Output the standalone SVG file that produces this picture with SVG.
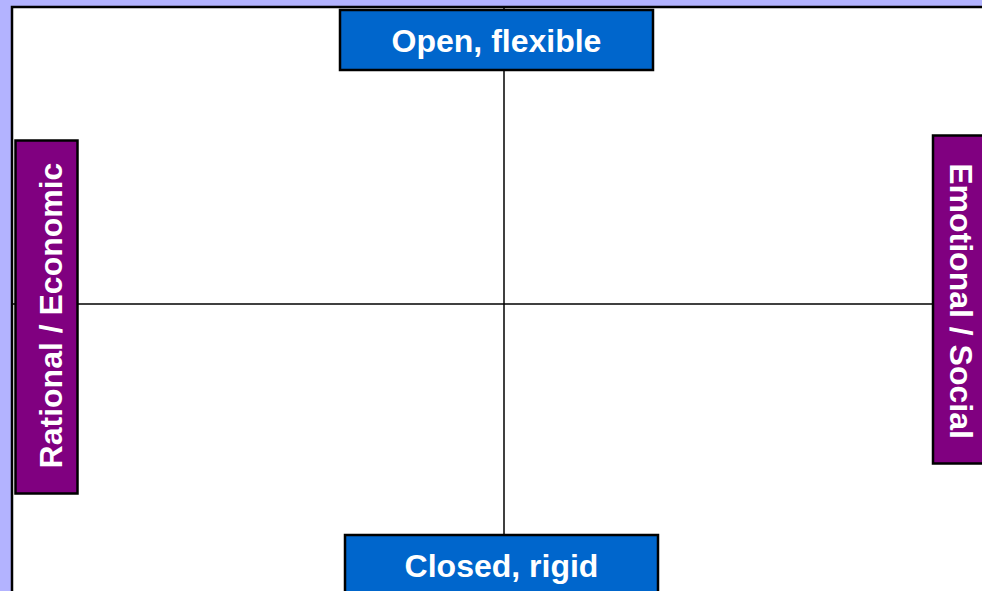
<svg xmlns="http://www.w3.org/2000/svg" width="982" height="591" viewBox="0 0 982 591">
<style>
.lbl{font-family:"Liberation Sans",Arial,sans-serif;font-weight:bold;font-size:32px;fill:#fff;text-anchor:middle}
.blue{fill:#0066CC;stroke:#000;stroke-width:2.5}
.purple{fill:#800080;stroke:#000;stroke-width:2.5}
.ln{stroke:#000;stroke-width:1.5;fill:none}
</style>
<rect x="0" y="0" width="982" height="591" fill="#B3B3FF"/>
<rect x="12" y="7" width="980" height="600" fill="#fff" stroke="#000" stroke-width="2.5"/>
<g id="connectors">
<line class="ln" x1="504" y1="8" x2="504" y2="536"/>
<line class="ln" x1="13" y1="304" x2="933" y2="304"/>
</g>
<g id="top">
<rect class="blue" x="340" y="10" width="313" height="60"/>
<text class="lbl" x="496.5" y="52">Open, flexible</text>
</g>
<g id="bottom">
<rect class="blue" x="345" y="535" width="313" height="70"/>
<text class="lbl" x="501.5" y="577">Closed, rigid</text>
</g>
<g id="left">
<rect class="purple" x="15.5" y="140.5" width="62" height="353"/>
<text class="lbl" transform="translate(61.5,315.5) rotate(-90)">Rational / Economic</text>
</g>
<g id="right">
<rect class="purple" x="933" y="135.5" width="60" height="328"/>
<text class="lbl" transform="translate(949.5,301) rotate(90)">Emotional / Social</text>
</g>
</svg>
